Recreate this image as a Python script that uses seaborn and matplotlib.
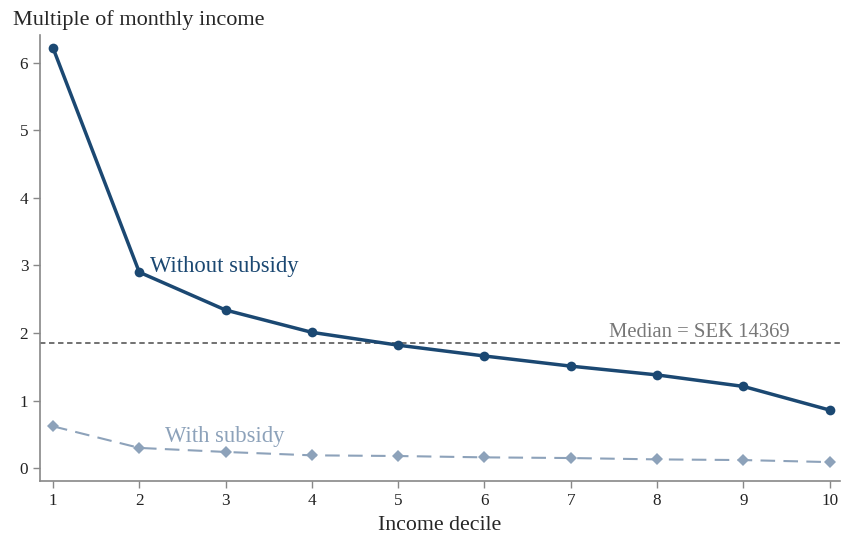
import numpy as np
import pandas as pd
import matplotlib
matplotlib.use("Agg")
import matplotlib.pyplot as plt
import seaborn as sns

deciles = [1, 2, 3, 4, 5, 6, 7, 8, 9, 10]
without_subsidy = [6.22, 2.90, 2.34, 2.01, 1.82, 1.66, 1.51, 1.38, 1.21, 0.86]
with_subsidy = [0.62, 0.30, 0.24, 0.19, 0.18, 0.16, 0.15, 0.13, 0.12, 0.09]
median_level = 1.85
median_label = "Median = SEK 14369"

dark = "#1b4872"
light = "#8da2ba"
grey = "#777777"

sns.set_style("ticks")
plt.rcParams['font.family'] = ['Liberation Serif', 'DejaVu Serif']

df = pd.DataFrame({"decile": deciles, "without": without_subsidy, "with": with_subsidy})

fig = plt.figure(figsize=(8.41, 5.35), dpi=100)
ax = fig.add_axes([0.0476, 0.1009, 0.9512, 0.8337])

ax.axhline(median_level, color="#666666", ls=(0, (3, 2)), lw=1.3, zorder=1)
sns.lineplot(data=df, x="decile", y="with", ax=ax, color=light, lw=1.5,
             marker="D", markersize=6, markeredgewidth=0, zorder=2)
ax.lines[-1].set_dashes([7, 4])
sns.lineplot(data=df, x="decile", y="without", ax=ax, color=dark, lw=2.5,
             marker="o", markersize=7, markeredgewidth=0, zorder=3)

ax.text(2.13, 2.98, "Without subsidy", color=dark, fontsize=16.3, va="center", ha="left")
ax.text(2.3, 0.47, "With subsidy", color=light, fontsize=16.3, va="center", ha="left")
ax.text(9.54, 1.86, median_label, color=grey, fontsize=14.9, va="bottom", ha="right")

ax.set_xlim(0.85, 10.12)
ax.set_ylim(-0.19, 6.41)
ax.set_xticks(deciles)
ax.set_yticks([0, 1, 2, 3, 4, 5, 6])
ax.set_xlabel("Income decile", fontsize=15.7, labelpad=5)
ax.set_ylabel("")
fig.text(0.015, 0.963, "Multiple of monthly income", fontsize=16, va="center", ha="left")

for s in ["top", "right"]:
    ax.spines[s].set_visible(False)
for s in ["left", "bottom"]:
    ax.spines[s].set_color("#888888")
    ax.spines[s].set_linewidth(1.2)
ax.tick_params(axis="both", colors="#888888", labelcolor="#222222", labelsize=12.3, length=5, width=1)

fig.savefig("out.png", dpi=100)
